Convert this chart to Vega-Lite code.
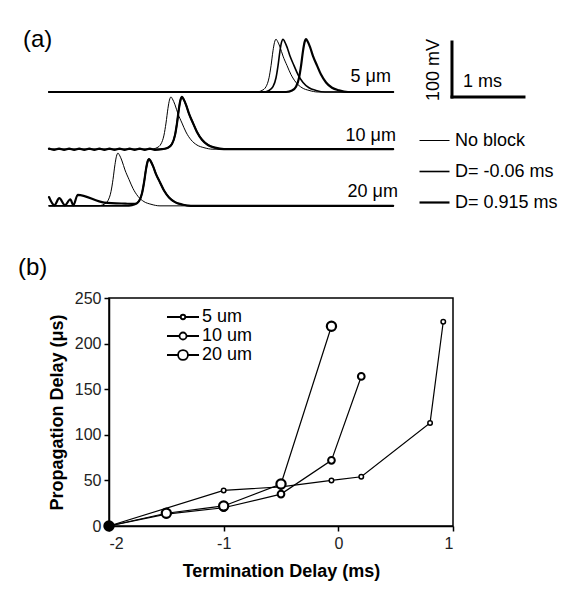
{
"$schema": "https://vega.github.io/schema/vega-lite/v6.json",
"padding": {"left": 17, "top": 0, "right": 0, "bottom": 0},
"spacing": 35,
"background": "white",
"config": {"font": "Liberation Sans", "view": {"stroke": null}},
"resolve": {"legend": {"shape": "independent", "strokeWidth": "independent"}},
"datasets": {
"traces": [
{"id":"5a","kind":"No block","t":0,"v":0},{"id":"5a","kind":"No block","t":2.875,"v":0},{"id":"5a","kind":"No block","t":2.959,"v":2.9},{"id":"5a","kind":"No block","t":3.014,"v":9.6},{"id":"5a","kind":"No block","t":3.056,"v":25.9},{"id":"5a","kind":"No block","t":3.084,"v":48},{"id":"5a","kind":"No block","t":3.111,"v":74.9},{"id":"5a","kind":"No block","t":3.132,"v":90.2},{"id":"5a","kind":"No block","t":3.153,"v":96},{"id":"5a","kind":"No block","t":3.174,"v":92.2},{"id":"5a","kind":"No block","t":3.209,"v":81.6},{"id":"5a","kind":"No block","t":3.25,"v":65.3},{"id":"5a","kind":"No block","t":3.306,"v":48},{"id":"5a","kind":"No block","t":3.361,"v":31.7},{"id":"5a","kind":"No block","t":3.431,"v":17.3},{"id":"5a","kind":"No block","t":3.514,"v":7.7},{"id":"5a","kind":"No block","t":3.611,"v":2.9},{"id":"5a","kind":"No block","t":3.736,"v":0},{"id":"5a","kind":"No block","t":4.78,"v":0},
{"id":"5b","kind":"D= -0.06 ms","t":0,"v":0},{"id":"5b","kind":"D= -0.06 ms","t":2.972,"v":0},{"id":"5b","kind":"D= -0.06 ms","t":3.056,"v":2.9},{"id":"5b","kind":"D= -0.06 ms","t":3.111,"v":9.6},{"id":"5b","kind":"D= -0.06 ms","t":3.153,"v":25.9},{"id":"5b","kind":"D= -0.06 ms","t":3.181,"v":48},{"id":"5b","kind":"D= -0.06 ms","t":3.208,"v":74.9},{"id":"5b","kind":"D= -0.06 ms","t":3.229,"v":90.2},{"id":"5b","kind":"D= -0.06 ms","t":3.25,"v":96},{"id":"5b","kind":"D= -0.06 ms","t":3.271,"v":92.2},{"id":"5b","kind":"D= -0.06 ms","t":3.306,"v":81.6},{"id":"5b","kind":"D= -0.06 ms","t":3.347,"v":65.3},{"id":"5b","kind":"D= -0.06 ms","t":3.403,"v":48},{"id":"5b","kind":"D= -0.06 ms","t":3.458,"v":31.7},{"id":"5b","kind":"D= -0.06 ms","t":3.528,"v":17.3},{"id":"5b","kind":"D= -0.06 ms","t":3.611,"v":7.7},{"id":"5b","kind":"D= -0.06 ms","t":3.708,"v":2.9},{"id":"5b","kind":"D= -0.06 ms","t":3.833,"v":0},{"id":"5b","kind":"D= -0.06 ms","t":4.78,"v":0},
{"id":"5c","kind":"D= 0.915 ms","t":0,"v":0},{"id":"5c","kind":"D= 0.915 ms","t":3.292,"v":0},{"id":"5c","kind":"D= 0.915 ms","t":3.376,"v":2.9},{"id":"5c","kind":"D= 0.915 ms","t":3.431,"v":9.6},{"id":"5c","kind":"D= 0.915 ms","t":3.473,"v":25.9},{"id":"5c","kind":"D= 0.915 ms","t":3.501,"v":48},{"id":"5c","kind":"D= 0.915 ms","t":3.528,"v":74.9},{"id":"5c","kind":"D= 0.915 ms","t":3.549,"v":90.2},{"id":"5c","kind":"D= 0.915 ms","t":3.57,"v":96},{"id":"5c","kind":"D= 0.915 ms","t":3.591,"v":92.2},{"id":"5c","kind":"D= 0.915 ms","t":3.626,"v":81.6},{"id":"5c","kind":"D= 0.915 ms","t":3.667,"v":65.3},{"id":"5c","kind":"D= 0.915 ms","t":3.723,"v":48},{"id":"5c","kind":"D= 0.915 ms","t":3.778,"v":31.7},{"id":"5c","kind":"D= 0.915 ms","t":3.848,"v":17.3},{"id":"5c","kind":"D= 0.915 ms","t":3.931,"v":7.7},{"id":"5c","kind":"D= 0.915 ms","t":4.028,"v":2.9},{"id":"5c","kind":"D= 0.915 ms","t":4.153,"v":0},{"id":"5c","kind":"D= 0.915 ms","t":4.78,"v":0},
{"id":"10a","kind":"No block","t":0,"v":-104},{"id":"10a","kind":"No block","t":1.416,"v":-104},{"id":"10a","kind":"No block","t":1.5,"v":-101.2},{"id":"10a","kind":"No block","t":1.555,"v":-94.5},{"id":"10a","kind":"No block","t":1.597,"v":-78.4},{"id":"10a","kind":"No block","t":1.625,"v":-56.5},{"id":"10a","kind":"No block","t":1.652,"v":-29.9},{"id":"10a","kind":"No block","t":1.673,"v":-14.7},{"id":"10a","kind":"No block","t":1.694,"v":-9},{"id":"10a","kind":"No block","t":1.715,"v":-12.8},{"id":"10a","kind":"No block","t":1.75,"v":-23.3},{"id":"10a","kind":"No block","t":1.791,"v":-39.4},{"id":"10a","kind":"No block","t":1.847,"v":-56.5},{"id":"10a","kind":"No block","t":1.902,"v":-72.7},{"id":"10a","kind":"No block","t":1.972,"v":-86.9},{"id":"10a","kind":"No block","t":2.055,"v":-96.4},{"id":"10a","kind":"No block","t":2.152,"v":-101.2},{"id":"10a","kind":"No block","t":2.277,"v":-104},{"id":"10a","kind":"No block","t":4.78,"v":-104},
{"id":"10b","kind":"D= -0.06 ms","t":0,"v":-104},{"id":"10b","kind":"D= -0.06 ms","t":1.569,"v":-104},{"id":"10b","kind":"D= -0.06 ms","t":1.653,"v":-101.2},{"id":"10b","kind":"D= -0.06 ms","t":1.708,"v":-94.5},{"id":"10b","kind":"D= -0.06 ms","t":1.75,"v":-78.4},{"id":"10b","kind":"D= -0.06 ms","t":1.778,"v":-56.5},{"id":"10b","kind":"D= -0.06 ms","t":1.805,"v":-29.9},{"id":"10b","kind":"D= -0.06 ms","t":1.826,"v":-14.7},{"id":"10b","kind":"D= -0.06 ms","t":1.847,"v":-9},{"id":"10b","kind":"D= -0.06 ms","t":1.868,"v":-12.8},{"id":"10b","kind":"D= -0.06 ms","t":1.903,"v":-23.3},{"id":"10b","kind":"D= -0.06 ms","t":1.944,"v":-39.4},{"id":"10b","kind":"D= -0.06 ms","t":2.0,"v":-56.5},{"id":"10b","kind":"D= -0.06 ms","t":2.055,"v":-72.7},{"id":"10b","kind":"D= -0.06 ms","t":2.125,"v":-86.9},{"id":"10b","kind":"D= -0.06 ms","t":2.208,"v":-96.4},{"id":"10b","kind":"D= -0.06 ms","t":2.305,"v":-101.2},{"id":"10b","kind":"D= -0.06 ms","t":2.43,"v":-104},{"id":"10b","kind":"D= -0.06 ms","t":4.78,"v":-104},
{"id":"10c","kind":"D= 0.915 ms","t":0,"v":-102.8},{"id":"10c","kind":"D= 0.915 ms","t":0.07,"v":-105.2},{"id":"10c","kind":"D= 0.915 ms","t":0.14,"v":-102.8},{"id":"10c","kind":"D= 0.915 ms","t":0.21,"v":-105.2},{"id":"10c","kind":"D= 0.915 ms","t":0.28,"v":-102.8},{"id":"10c","kind":"D= 0.915 ms","t":0.35,"v":-105.2},{"id":"10c","kind":"D= 0.915 ms","t":0.42,"v":-102.8},{"id":"10c","kind":"D= 0.915 ms","t":0.49,"v":-105.2},{"id":"10c","kind":"D= 0.915 ms","t":0.56,"v":-102.8},{"id":"10c","kind":"D= 0.915 ms","t":0.63,"v":-105.2},{"id":"10c","kind":"D= 0.915 ms","t":0.7,"v":-102.8},{"id":"10c","kind":"D= 0.915 ms","t":0.77,"v":-105.2},{"id":"10c","kind":"D= 0.915 ms","t":0.84,"v":-102.8},{"id":"10c","kind":"D= 0.915 ms","t":0.91,"v":-105.2},{"id":"10c","kind":"D= 0.915 ms","t":0.98,"v":-102.8},{"id":"10c","kind":"D= 0.915 ms","t":1.05,"v":-105.2},{"id":"10c","kind":"D= 0.915 ms","t":1.12,"v":-102.8},{"id":"10c","kind":"D= 0.915 ms","t":1.19,"v":-105.2},{"id":"10c","kind":"D= 0.915 ms","t":1.26,"v":-102.8},{"id":"10c","kind":"D= 0.915 ms","t":1.33,"v":-105.2},{"id":"10c","kind":"D= 0.915 ms","t":1.4,"v":-102.8},{"id":"10c","kind":"D= 0.915 ms","t":1.47,"v":-105.2},{"id":"10c","kind":"D= 0.915 ms","t":1.569,"v":-104},{"id":"10c","kind":"D= 0.915 ms","t":1.653,"v":-101.2},{"id":"10c","kind":"D= 0.915 ms","t":1.708,"v":-94.5},{"id":"10c","kind":"D= 0.915 ms","t":1.75,"v":-78.4},{"id":"10c","kind":"D= 0.915 ms","t":1.778,"v":-56.5},{"id":"10c","kind":"D= 0.915 ms","t":1.805,"v":-29.9},{"id":"10c","kind":"D= 0.915 ms","t":1.826,"v":-14.7},{"id":"10c","kind":"D= 0.915 ms","t":1.847,"v":-9},{"id":"10c","kind":"D= 0.915 ms","t":1.868,"v":-12.8},{"id":"10c","kind":"D= 0.915 ms","t":1.903,"v":-23.3},{"id":"10c","kind":"D= 0.915 ms","t":1.944,"v":-39.4},{"id":"10c","kind":"D= 0.915 ms","t":2.0,"v":-56.5},{"id":"10c","kind":"D= 0.915 ms","t":2.055,"v":-72.7},{"id":"10c","kind":"D= 0.915 ms","t":2.125,"v":-86.9},{"id":"10c","kind":"D= 0.915 ms","t":2.208,"v":-96.4},{"id":"10c","kind":"D= 0.915 ms","t":2.305,"v":-101.2},{"id":"10c","kind":"D= 0.915 ms","t":2.43,"v":-104},{"id":"10c","kind":"D= 0.915 ms","t":4.78,"v":-104},
{"id":"20a","kind":"No block","t":0,"v":-207},{"id":"20a","kind":"No block","t":0.68,"v":-207},{"id":"20a","kind":"No block","t":0.764,"v":-204.1},{"id":"20a","kind":"No block","t":0.819,"v":-197.4},{"id":"20a","kind":"No block","t":0.861,"v":-181.1},{"id":"20a","kind":"No block","t":0.889,"v":-159},{"id":"20a","kind":"No block","t":0.916,"v":-132.1},{"id":"20a","kind":"No block","t":0.937,"v":-116.8},{"id":"20a","kind":"No block","t":0.958,"v":-111},{"id":"20a","kind":"No block","t":0.979,"v":-114.8},{"id":"20a","kind":"No block","t":1.014,"v":-125.4},{"id":"20a","kind":"No block","t":1.055,"v":-141.7},{"id":"20a","kind":"No block","t":1.111,"v":-159},{"id":"20a","kind":"No block","t":1.166,"v":-175.3},{"id":"20a","kind":"No block","t":1.236,"v":-189.7},{"id":"20a","kind":"No block","t":1.319,"v":-199.3},{"id":"20a","kind":"No block","t":1.416,"v":-204.1},{"id":"20a","kind":"No block","t":1.541,"v":-207},{"id":"20a","kind":"No block","t":4.78,"v":-207},
{"id":"20b","kind":"D= -0.06 ms","t":0,"v":-207},{"id":"20b","kind":"D= -0.06 ms","t":1.111,"v":-207},{"id":"20b","kind":"D= -0.06 ms","t":1.195,"v":-204.5},{"id":"20b","kind":"D= -0.06 ms","t":1.25,"v":-198.5},{"id":"20b","kind":"D= -0.06 ms","t":1.292,"v":-184.1},{"id":"20b","kind":"D= -0.06 ms","t":1.32,"v":-164.5},{"id":"20b","kind":"D= -0.06 ms","t":1.347,"v":-140.7},{"id":"20b","kind":"D= -0.06 ms","t":1.368,"v":-127.1},{"id":"20b","kind":"D= -0.06 ms","t":1.389,"v":-122},{"id":"20b","kind":"D= -0.06 ms","t":1.41,"v":-125.4},{"id":"20b","kind":"D= -0.06 ms","t":1.445,"v":-134.8},{"id":"20b","kind":"D= -0.06 ms","t":1.486,"v":-149.2},{"id":"20b","kind":"D= -0.06 ms","t":1.542,"v":-164.5},{"id":"20b","kind":"D= -0.06 ms","t":1.597,"v":-179},{"id":"20b","kind":"D= -0.06 ms","t":1.667,"v":-191.7},{"id":"20b","kind":"D= -0.06 ms","t":1.75,"v":-200.2},{"id":"20b","kind":"D= -0.06 ms","t":1.847,"v":-204.5},{"id":"20b","kind":"D= -0.06 ms","t":1.972,"v":-207},{"id":"20b","kind":"D= -0.06 ms","t":4.78,"v":-207},
{"id":"20c","kind":"D= 0.915 ms","t":0,"v":-191},{"id":"20c","kind":"D= 0.915 ms","t":0.074,"v":-206},{"id":"20c","kind":"D= 0.915 ms","t":0.143,"v":-193},{"id":"20c","kind":"D= 0.915 ms","t":0.222,"v":-206},{"id":"20c","kind":"D= 0.915 ms","t":0.296,"v":-195},{"id":"20c","kind":"D= 0.915 ms","t":0.338,"v":-206},{"id":"20c","kind":"D= 0.915 ms","t":0.399,"v":-187},{"id":"20c","kind":"D= 0.915 ms","t":0.768,"v":-201},{"id":"20c","kind":"D= 0.915 ms","t":1.06,"v":-203},{"id":"20c","kind":"D= 0.915 ms","t":1.195,"v":-203.5},{"id":"20c","kind":"D= 0.915 ms","t":1.25,"v":-198.5},{"id":"20c","kind":"D= 0.915 ms","t":1.292,"v":-184.1},{"id":"20c","kind":"D= 0.915 ms","t":1.32,"v":-164.5},{"id":"20c","kind":"D= 0.915 ms","t":1.347,"v":-140.7},{"id":"20c","kind":"D= 0.915 ms","t":1.368,"v":-127.1},{"id":"20c","kind":"D= 0.915 ms","t":1.389,"v":-122},{"id":"20c","kind":"D= 0.915 ms","t":1.41,"v":-125.4},{"id":"20c","kind":"D= 0.915 ms","t":1.445,"v":-134.8},{"id":"20c","kind":"D= 0.915 ms","t":1.486,"v":-149.2},{"id":"20c","kind":"D= 0.915 ms","t":1.542,"v":-164.5},{"id":"20c","kind":"D= 0.915 ms","t":1.597,"v":-179},{"id":"20c","kind":"D= 0.915 ms","t":1.667,"v":-191.7},{"id":"20c","kind":"D= 0.915 ms","t":1.75,"v":-200.2},{"id":"20c","kind":"D= 0.915 ms","t":1.847,"v":-204.5},{"id":"20c","kind":"D= 0.915 ms","t":1.972,"v":-207},{"id":"20c","kind":"D= 0.915 ms","t":4.78,"v":-207}
],
"pd": [
{"s":"5 um","x":-2,"y":0},{"s":"5 um","x":-1,"y":39},{"s":"5 um","x":-0.5,"y":43},{"s":"5 um","x":-0.06,"y":50},{"s":"5 um","x":0.2,"y":54},{"s":"5 um","x":0.8,"y":113},{"s":"5 um","x":0.915,"y":224},
{"s":"10 um","x":-2,"y":0},{"s":"10 um","x":-1.5,"y":13},{"s":"10 um","x":-1,"y":20},{"s":"10 um","x":-0.5,"y":35},{"s":"10 um","x":-0.06,"y":72},{"s":"10 um","x":0.2,"y":164},
{"s":"20 um","x":-2,"y":0},{"s":"20 um","x":-1.5,"y":14},{"s":"20 um","x":-1,"y":22},{"s":"20 um","x":-0.5,"y":46},{"s":"20 um","x":-0.06,"y":219}
]
},
"vconcat": [
{
"width": 471, "height": 220,
"encoding": {
 "x": {"field": "t", "type": "quantitative", "scale": {"domain": [0.8333, 7.375], "nice": false, "zero": false}, "axis": null},
 "y": {"field": "v", "type": "quantitative", "scale": {"domain": [-232.73, 167.27], "nice": false, "zero": false}, "axis": null}
},
"layer": [
 {
  "data": {"name": "traces"},
  "mark": {"type": "line", "color": "black", "interpolate": "monotone", "strokeJoin": "round", "strokeCap": "round", "clip": false},
  "encoding": {
   "detail": {"field": "id", "type": "nominal"},
   "strokeWidth": {"field": "kind", "type": "ordinal",
    "scale": {"domain": ["No block", "D= -0.06 ms", "D= 0.915 ms"], "range": [1, 2.2, 3.6]},
    "legend": {"title": null, "orient": "none", "legendX": 309, "legendY": 125, "symbolType": "stroke", "symbolSize": 900, "symbolStrokeColor": "black", "labelFontSize": 18, "labelColor": "black", "labelFont": "Liberation Sans", "labelOffset": 4, "rowPadding": 5.5, "padding": 0}}
  }
 },
 {
  "data": {"values": [{"t": 5.597, "t2": 5.597, "v": 90.9, "v2": -9.1}, {"t": 5.597, "t2": 6.597, "v": -9.1, "v2": -9.1}]},
  "mark": {"type": "rule", "color": "black", "strokeWidth": 3, "strokeCap": "square"},
  "encoding": {"x2": {"field": "t2"}, "y2": {"field": "v2"}}
 },
 {
  "data": {"values": [{"label": "5 μm", "t": 4.75, "v": 27.9}, {"label": "10 μm", "t": 4.819, "v": -79.4}, {"label": "20 μm", "t": 4.847, "v": -182.4}]},
  "mark": {"type": "text", "align": "right", "baseline": "middle", "fontSize": 18, "color": "black"},
  "encoding": {"text": {"field": "label"}}
 },
 {
  "data": {"values": [{"label": "(a)", "t": -0.361, "v": 94.5}]},
  "mark": {"type": "text", "align": "left", "baseline": "middle", "fontSize": 24, "color": "black"},
  "encoding": {"text": {"field": "label"}}
 },
 {
  "data": {"values": [{"label": "100 mV", "t": 5.347, "v": 40}]},
  "mark": {"type": "text", "align": "center", "baseline": "middle", "fontSize": 18, "angle": 270, "color": "black"},
  "encoding": {"text": {"field": "label"}}
 },
 {
  "data": {"values": [{"label": "1 ms", "t": 5.75, "v": 18.2}]},
  "mark": {"type": "text", "align": "left", "baseline": "middle", "fontSize": 18, "color": "black"},
  "encoding": {"text": {"field": "label"}}
 }
]
},
{
"width": 344, "height": 228,
"view": {"stroke": "black", "strokeWidth": 1.5},
"data": {"name": "pd"},
"encoding": {
 "x": {"field": "x", "type": "quantitative", "scale": {"domain": [-2, 1], "nice": false, "zero": false},
  "axis": {"title": "Termination Delay (ms)", "values": [-2, -1, 0, 1], "labelExpr": "'' + datum.value", "grid": false, "domainColor": "black", "domainWidth": 1.5, "tickColor": "black", "tickWidth": 1.5, "tickSize": 5, "labelFontSize": 16, "labelColor": "#222", "labelPadding": 4, "titleFontSize": 18, "titleFontWeight": "bold", "titleColor": "black", "titlePadding": 11}},
 "y": {"field": "y", "type": "quantitative", "scale": {"domain": [0, 250], "nice": false, "zero": false},
  "axis": {"title": "Propagation Delay (μs)", "values": [0, 50, 100, 150, 200, 250], "grid": false, "domainColor": "black", "domainWidth": 1.5, "tickColor": "black", "tickWidth": 1.5, "tickSize": 5, "labelFontSize": 16, "labelColor": "#222", "labelPadding": 3, "titleFontSize": 18, "titleFontWeight": "bold", "titleColor": "black", "titlePadding": 8}}
},
"layer": [
 {
  "mark": {"type": "line", "color": "black", "strokeWidth": 1.2},
  "encoding": {"detail": {"field": "s", "type": "nominal"}}
 },
 {
  "transform": [{"filter": {"field": "s", "equal": "5 um"}}],
  "mark": {"type": "point", "shape": "circle", "filled": true, "stroke": "black", "strokeWidth": 1.5, "opacity": 1, "size": 20},
  "encoding": {"fill": {"condition": {"test": "datum.x == -2", "value": "black"}, "value": "white"}}
 },
 {
  "transform": [{"filter": {"field": "s", "equal": "10 um"}}],
  "mark": {"type": "point", "shape": "circle", "filled": true, "stroke": "black", "strokeWidth": 2, "opacity": 1, "size": 45},
  "encoding": {"fill": {"condition": {"test": "datum.x == -2", "value": "black"}, "value": "white"}}
 },
 {
  "transform": [{"filter": {"field": "s", "equal": "20 um"}}],
  "mark": {"type": "point", "shape": "circle", "filled": true, "stroke": "black", "strokeWidth": 2.2, "opacity": 1, "size": 85},
  "encoding": {"fill": {"condition": {"test": "datum.x == -2", "value": "black"}, "value": "white"}}
 },
 {
  "transform": [{"filter": {"field": "s", "equal": "none"}}],
  "mark": {"type": "point", "filled": false, "color": "black", "strokeWidth": 1.8, "size": 324, "opacity": 1},
  "encoding": {
   "shape": {"field": "s", "type": "ordinal",
    "scale": {"domain": ["5 um", "10 um", "20 um"], "range": [
     "M-1.78,0H-0.25M0.25,0H1.78M-0.25,0A0.25,0.25,0,1,1,0.25,0A0.25,0.25,0,1,1,-0.25,0Z",
     "M-1.78,0H-0.39M0.39,0H1.78M-0.39,0A0.39,0.39,0,1,1,0.39,0A0.39,0.39,0,1,1,-0.39,0Z",
     "M-1.78,0H-0.55M0.55,0H1.78M-0.55,0A0.55,0.55,0,1,1,0.55,0A0.55,0.55,0,1,1,-0.55,0Z"]},
    "legend": {"title": null, "orient": "none", "legendX": 64, "legendY": 9, "symbolSize": 324, "symbolStrokeColor": "black", "symbolStrokeWidth": 1.8, "symbolOpacity": 1, "labelFontSize": 18, "labelColor": "black", "labelFont": "Liberation Sans", "labelOffset": 9, "rowPadding": 0, "padding": 0}}
  }
 },
 {
  "data": {"values": [{"label": "(b)", "x": -2.794, "y": 283}]},
  "mark": {"type": "text", "align": "left", "baseline": "middle", "fontSize": 24, "color": "black"},
  "encoding": {"text": {"field": "label"}}
 }
]
}
]
}
